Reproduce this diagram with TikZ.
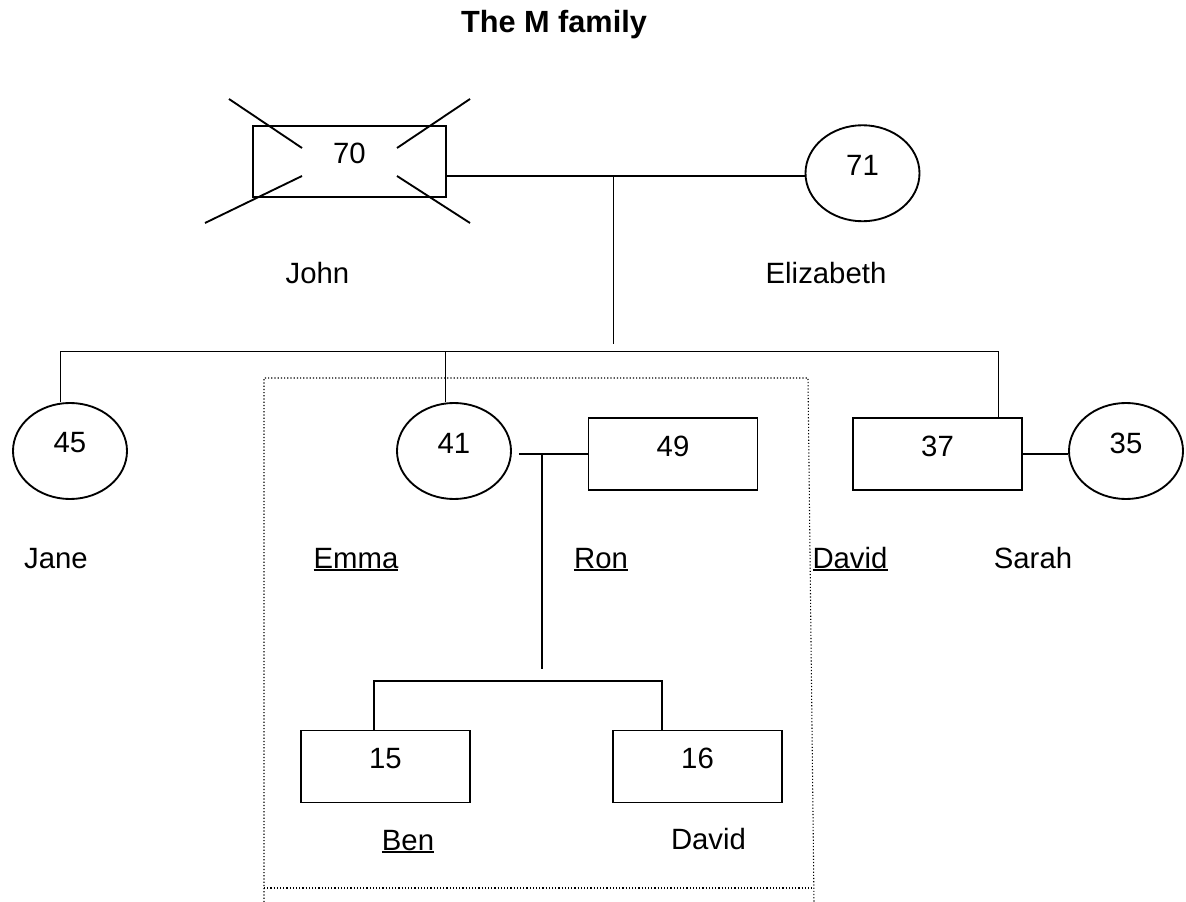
\documentclass[tikz,border=0pt]{standalone}
\usepackage{fontspec}
\setmainfont{Liberation Sans}
\usepackage{tikz}
\usetikzlibrary{shapes.geometric,calc}
% underlined name
\newcommand{\nameul}[1]{\setbox0\hbox{#1}\rlap{\rule[-2.4pt]{\wd0}{1.3pt}}\box0}

\begin{document}
\begin{tikzpicture}[x=0.75pt,y=-0.75pt,
  link/.style={line width=1.4pt},
  person/.style={draw, line width=1.4pt, inner sep=0pt},
  male/.style={person, rectangle, minimum width=126.75pt, minimum height=54pt},
  female/.style={person, ellipse, minimum width=85.5pt, minimum height=72pt},
  age/.style={yshift=6pt, inner sep=0pt, font=\fontsize{22}{26}\selectfont},
  pname/.style={anchor=base, inner sep=0pt, font=\fontsize{22}{26}\selectfont},
  household/.style={line width=0.8pt, dash pattern=on 0.9pt off 1.5pt}]
\useasboundingbox (0,0) rectangle (1186,902);
\node[anchor=base, inner sep=0pt, font=\bfseries\fontsize{23}{27}\selectfont] (title) at (554,33) {The M family};

%grandparents
\node[male, minimum width=144.75pt, minimum height=53.25pt, label={[age]center:70}] (john) at (349.5,161.5) {};
\node[female, label={[age]center:71}] (eliz) at (862.5,173.25) {};
\foreach \a/\b/\c/\d in {-120.5/-62.5/-47.5/-13.5, 120.5/-62.5/47.5/-13.5, -144.5/61.5/-47.5/14.5, 120.5/61.5/47.5/14.5}{
	\draw[link] ([shift={(\a,\b)}]john.center) -- ([shift={(\c,\d)}]john.center);
}
\node[pname] (tjohn) at (317.5,284) {John};
\node[pname] (teliz) at (826,284) {Elizabeth};

%children
\node[female, label={[age]center:45}] (jane) at (70,451) {};
\node[female, label={[age]center:41}] (emma) at (454,451) {};
\node[male, label={[age]center:49}] (ron) at (673,454) {};
\node[male, label={[age]center:37}] (dave) at (937.5,454) {};
\node[female, label={[age]center:35}] (sarah) at (1126,451) {};
\node[pname] (tjane) at (56,568) {Jane};
\node[pname] (temma) at (356,568) {\nameul{Emma}};
\node[pname] (tron) at (601,568) {\nameul{Ron}};
\node[pname] (tdave) at (850,568) {\nameul{David}};
\node[pname] (tsarah) at (1033,568) {Sarah};

%grandchildren
\node[male, label={[age]center:15}] (ben) at (385.5,766.5) {};
\node[male, label={[age]center:16}] (davy) at (697.5,766.5) {};
\node[pname] (tben) at (408,850) {\nameul{Ben}};
\node[pname] (tdavy) at (708.5,849) {David};

%marriage lines
\draw[link] ([yshift=-10.9pt]john.east) coordinate (jl) -- (jl -| eliz.west);
\draw[link] (ron.west -| emma.east) ++(5.25pt,0) -- (ron.west);
\draw[link] (dave.east) -- (dave.east -| sarah.west);

%descent lines
\coordinate (jdrop) at (613.5,175.5);
\coordinate (jend) at (613.5,344);
\draw[link] (jdrop) -- (jend);
\coordinate (bar) at (0,351.5);
\coordinate (jtop) at ([xshift=-7.1pt]jane.north);
\coordinate (etop) at ([xshift=-6.4pt]emma.north);
\coordinate (dtop) at ([xshift=45.75pt]dave.north);
\draw[link] (jtop) |- (bar -| dtop) -- (dtop);
\draw[link] (etop) -- (bar -| etop);

\coordinate (edrop) at (541.6,453);
\coordinate (eend) at (541.6,669);
\draw[link] (edrop) -- (eend);
\coordinate (kbar) at (0,680.6);
\coordinate (btop) at ([xshift=-8.85pt]ben.north);
\coordinate (vtop) at ([xshift=-26.6pt]davy.north);
\draw[link] (btop) |- (kbar -| vtop) -- (vtop);

%household
\draw[household] (264,902) -- (264,378) -- (808,378) -- (814,902);
\draw[household] (264,888) -- (814,888);
\end{tikzpicture}
\end{document}
